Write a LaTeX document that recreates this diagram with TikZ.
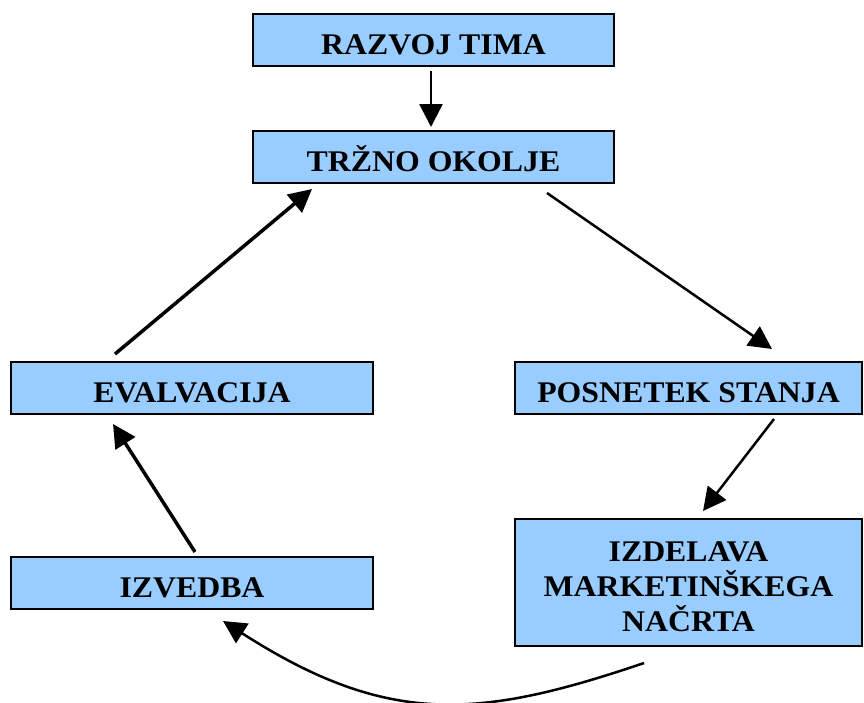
\documentclass[tikz,border=0pt]{standalone}
\usepackage{fontspec}
\setmainfont{Liberation Serif}
\newfontfamily\widebold[FakeStretch=1.06]{Liberation Serif}
\usetikzlibrary{arrows.meta,calc}
\definecolor{boxblue}{RGB}{153,204,255}
\begin{document}
\begin{tikzpicture}[x=1pt,y=-1pt,
  boxfont/.style={inner sep=0pt,align=center,yshift=-4pt,
    font=\widebold\fontsize{30}{35}\selectfont\bfseries},
  oneline/.style={boxfont,text height=20pt,text depth=0pt},
  stagebox/.style={draw=black,line width=2pt,fill=boxblue,rectangle,inner sep=0pt},
  caption/.style={label={[oneline]center:#1}},
  captionlines/.style={label={[boxfont]center:#1}},
  arr/.style={line width=2.5pt,-{Triangle[length=23pt,width=23pt]}},
  thickarr/.style={line width=3.5pt,-{Triangle[length=23pt,width=23pt]}}]
\useasboundingbox (0,0) rectangle (864,702);

% stage boxes
\node[stagebox,caption={RAZVOJ TIMA},minimum width=361pt,minimum height=52pt] (razvoj) at (433.5,40) {};
\node[stagebox,caption={TRŽNO OKOLJE},minimum width=361pt,minimum height=52pt] (trzno) at (433.5,157) {};
\node[stagebox,caption={EVALVACIJA},minimum width=362pt,minimum height=52pt] (eval) at (192,388) {};
\node[stagebox,caption={POSNETEK STANJA},minimum width=347pt,minimum height=52pt] (posnetek) at (688.5,388) {};
\node[stagebox,captionlines={IZDELAVA\\MARKETINŠKEGA\\NAČRTA},minimum width=347pt,minimum height=127pt] (izdelava) at (688.5,582.5) {};
\node[stagebox,caption={IZVEDBA},minimum width=362pt,minimum height=52pt] (izvedba) at (192,583) {};

% cycle connectors
\draw[arr] ($(razvoj.south)+(-2.5,4)$) -- ($(trzno.north)+(-2.5,-3)$);
\draw[arr] ($(trzno.south)+(113.5,9)$) -- ($(posnetek.north)+(83.5,-12)$);
\draw[arr] ($(posnetek.south)+(85.5,4)$) -- ($(izdelava.north)+(14.5,-7)$);
\draw[arr] ($(izdelava.south)+(-44.5,16)$)
  .. controls ($(izdelava.south)+(-209.5,72)$) and ($(izvedba.south)+(196,117)$)
  .. ($(izvedba.south)+(31,11)$);
\draw[thickarr] ($(izvedba.north)+(3,-4)$) -- ($(eval.south)+(-79,9)$);
\draw[thickarr] ($(eval.north)+(-77,-7)$) -- ($(trzno.south)+(-121.5,5)$);
\end{tikzpicture}
\end{document}
